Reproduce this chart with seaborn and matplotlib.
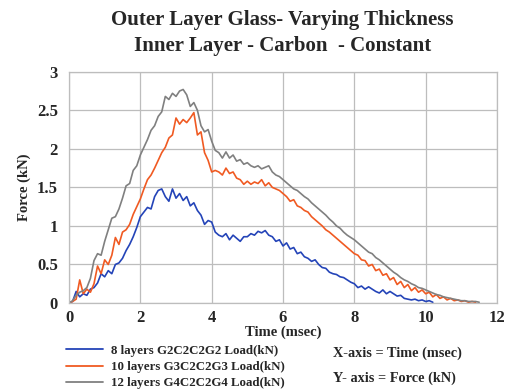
import numpy as np
import pandas as pd
import matplotlib
matplotlib.use("Agg")
import matplotlib.pyplot as plt
import seaborn as sns
from matplotlib.lines import Line2D

series_names = ["8 layers G2C2C2G2 Load(kN)",
                "10 layers G3C2C2G3 Load(kN)",
                "12 layers G4C2C2G4 Load(kN)"]
colors = ["#2444b8", "#f05a22", "#808080"]

blue_force = [0.00, 0.02, 0.15, 0.08, 0.12, 0.10, 0.18, 0.20, 0.26, 0.38,
              0.34, 0.42, 0.38, 0.50, 0.52, 0.58, 0.68, 0.76, 0.86, 0.98,
              1.12, 1.18, 1.24, 1.22, 1.38, 1.46, 1.48, 1.38, 1.32, 1.48,
              1.36, 1.42, 1.33, 1.38, 1.26, 1.30, 1.20, 1.14, 1.02, 1.07,
              1.05, 0.92, 0.88, 0.86, 0.90, 0.82, 0.88, 0.84, 0.80, 0.86,
              0.86, 0.90, 0.88, 0.93, 0.91, 0.94, 0.88, 0.86, 0.80, 0.82,
              0.74, 0.78, 0.70, 0.72, 0.64, 0.66, 0.60, 0.58, 0.54, 0.56,
              0.50, 0.46, 0.45, 0.40, 0.38, 0.37, 0.34, 0.33, 0.30, 0.27,
              0.25, 0.20, 0.22, 0.18, 0.21, 0.18, 0.15, 0.13, 0.17, 0.12,
              0.15, 0.12, 0.09, 0.10, 0.06, 0.05, 0.04, 0.05, 0.03, 0.04,
              0.02, 0.03, 0.01]

orange_force = [0.00, 0.02, 0.05, 0.30, 0.12, 0.18, 0.14, 0.25, 0.48, 0.38,
                0.56, 0.50, 0.62, 0.85, 0.76, 0.92, 0.95, 1.02, 1.15, 1.25,
                1.35, 1.48, 1.60, 1.66, 1.75, 1.85, 1.95, 2.02, 2.14, 2.18,
                2.40, 2.32, 2.38, 2.34, 2.40, 2.47, 2.18, 2.22, 1.95, 1.85,
                1.70, 1.72, 1.70, 1.66, 1.75, 1.68, 1.70, 1.62, 1.60, 1.54,
                1.58, 1.54, 1.57, 1.55, 1.60, 1.52, 1.56, 1.50, 1.48, 1.46,
                1.42, 1.38, 1.32, 1.34, 1.26, 1.24, 1.20, 1.18, 1.12, 1.08,
                1.04, 1.00, 0.95, 0.92, 0.88, 0.84, 0.80, 0.76, 0.72, 0.68,
                0.64, 0.62, 0.56, 0.55, 0.48, 0.50, 0.42, 0.44, 0.36, 0.38,
                0.30, 0.33, 0.24, 0.28, 0.20, 0.24, 0.16, 0.20, 0.14, 0.17,
                0.12, 0.14, 0.08, 0.11, 0.06, 0.08, 0.04, 0.06, 0.03, 0.04,
                0.02, 0.03, 0.01, 0.02, 0.01]

gray_force = [0.00, 0.03, 0.10, 0.14, 0.16, 0.20, 0.32, 0.55, 0.64, 0.62,
              0.80, 0.95, 1.10, 1.12, 1.22, 1.36, 1.52, 1.55, 1.72, 1.78,
              1.92, 2.02, 2.12, 2.24, 2.30, 2.42, 2.48, 2.68, 2.64, 2.72,
              2.68, 2.75, 2.77, 2.70, 2.55, 2.60, 2.50, 2.30, 2.22, 2.25,
              2.10, 1.98, 1.95, 1.88, 1.96, 1.88, 1.92, 1.84, 1.86, 1.80,
              1.82, 1.78, 1.76, 1.78, 1.74, 1.76, 1.78, 1.70, 1.66, 1.64,
              1.60, 1.56, 1.52, 1.48, 1.46, 1.42, 1.38, 1.35, 1.30, 1.26,
              1.22, 1.18, 1.14, 1.09, 1.05, 1.00, 0.97, 0.92, 0.88, 0.85,
              0.82, 0.78, 0.74, 0.70, 0.66, 0.64, 0.59, 0.56, 0.52, 0.48,
              0.44, 0.40, 0.37, 0.33, 0.30, 0.28, 0.25, 0.23, 0.20, 0.19,
              0.17, 0.15, 0.13, 0.11, 0.10, 0.08, 0.07, 0.06, 0.05, 0.04,
              0.03, 0.03, 0.02, 0.02, 0.02, 0.01]

x_ticks = [0, 2, 4, 6, 8, 10, 12]
y_ticks = [0, 0.5, 1, 1.5, 2, 2.5, 3]
y_tick_labels = ["0", "0.5", "1", "1.5", "2", "2.5", "3"]

frames = []
for name, vals in zip(series_names, [blue_force, orange_force, gray_force]):
    t = np.round(np.arange(len(vals)) * 0.1, 2)
    frames.append(pd.DataFrame({"Time": t, "Force": vals, "Series": name}))
df = pd.concat(frames, ignore_index=True)

sns.set_style("white")
plt.rcParams["font.family"] = ["Liberation Serif", "DejaVu Serif"]
plt.rcParams["font.weight"] = "bold"

fig = plt.figure(figsize=(5.12, 3.92), dpi=100)
ax = fig.add_axes([0.1348, 0.227, 0.8359, 0.590])

sns.lineplot(data=df, x="Time", y="Force", hue="Series",
             palette=dict(zip(series_names, colors)), linewidth=1.2,
             ax=ax, legend=False, estimator=None, sort=False)

ax.set_xlim(0, 12)
ax.set_ylim(0, 3)
ax.set_xticks(x_ticks)
ax.set_xticklabels([str(v) for v in x_ticks], fontsize=12, fontweight="bold")
ax.set_yticks(y_ticks)
ax.set_yticklabels(y_tick_labels, fontsize=12, fontweight="bold")
ax.tick_params(axis="both", length=0, pad=8)
ax.tick_params(axis="x", pad=5)
ax.grid(True, color="#bdbdbd", linewidth=0.9)
for s in ax.spines.values():
    s.set_color("#bdbdbd")
    s.set_linewidth(0.9)
ax.set_xlabel("Time (msec)", fontsize=10.5, fontweight="bold", labelpad=0)
ax.set_ylabel("Force (kN)", fontsize=10.5, fontweight="bold", labelpad=4)

fig.text(0.552, 0.950, "Outer Layer Glass- Varying Thickness", ha="center",
         va="center", fontsize=15, fontweight="bold")
fig.text(0.552, 0.883, "Inner Layer - Carbon  - Constant", ha="center",
         va="center", fontsize=15, fontweight="bold")

handles = [Line2D([0], [0], color=c, lw=1.3) for c in colors]
fig.legend(handles, series_names, loc="upper left",
           bbox_to_anchor=(0.128, 0.12), frameon=False,
           prop={"family": "Liberation Serif", "weight": "bold", "size": 9.3},
           handlelength=2.9, handletextpad=0.6, labelspacing=0.32,
           borderaxespad=0, borderpad=0)

fig.text(0.65, 0.098, "X-axis = Time (msec)", ha="left", va="center",
         fontsize=10.3, fontweight="bold")
fig.text(0.65, 0.036, "Y- axis = Force (kN)", ha="left", va="center",
         fontsize=10.3, fontweight="bold")

fig.savefig("out.png", dpi=100, facecolor="white")
